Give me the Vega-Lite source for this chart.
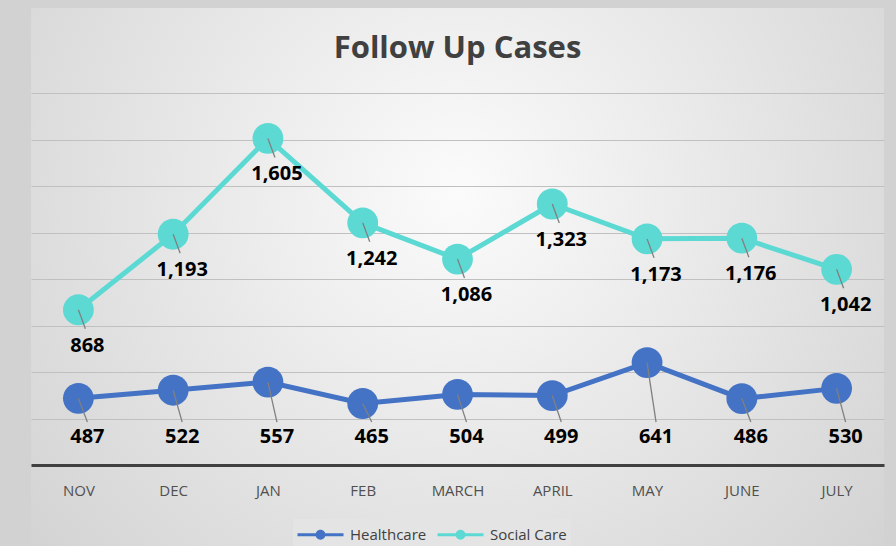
{
  "$schema": "https://vega.github.io/schema/vega-lite/v6.json",
  "width": 853,
  "height": 538,
  "autosize": {"type": "none"},
  "padding": {"left": 31, "top": 8, "right": 12, "bottom": 0},
  "background": "#d2d2d2",
  "config": {
    "font": "Open Sans",
    "view": {
      "stroke": null,
      "fill": {
        "gradient": "radial",
        "x1": 0.5, "y1": 0.4, "r1": 0,
        "x2": 0.5, "y2": 0.4, "r2": 0.75,
        "stops": [
          {"offset": 0, "color": "#fbfbfb"},
          {"offset": 1, "color": "#cdcdcd"}
        ]
      }
    }
  },
  "title": {
    "text": "Follow Up Cases",
    "orient": "top",
    "anchor": "middle",
    "frame": "group",
    "offset": -81,
    "baseline": "alphabetic",
    "fontSize": 31,
    "fontWeight": "bold",
    "font": "Open Sans",
    "color": "#404040"
  },
  "data": {
    "values": [
      {"month": "NOV", "series": "Healthcare", "value": 487},
      {"month": "DEC", "series": "Healthcare", "value": 522},
      {"month": "JAN", "series": "Healthcare", "value": 557},
      {"month": "FEB", "series": "Healthcare", "value": 465},
      {"month": "MARCH", "series": "Healthcare", "value": 504},
      {"month": "APRIL", "series": "Healthcare", "value": 499},
      {"month": "MAY", "series": "Healthcare", "value": 641},
      {"month": "JUNE", "series": "Healthcare", "value": 486},
      {"month": "JULY", "series": "Healthcare", "value": 530},
      {"month": "NOV", "series": "Social Care", "value": 868},
      {"month": "DEC", "series": "Social Care", "value": 1193},
      {"month": "JAN", "series": "Social Care", "value": 1605},
      {"month": "FEB", "series": "Social Care", "value": 1242},
      {"month": "MARCH", "series": "Social Care", "value": 1086},
      {"month": "APRIL", "series": "Social Care", "value": 1323},
      {"month": "MAY", "series": "Social Care", "value": 1173},
      {"month": "JUNE", "series": "Social Care", "value": 1176},
      {"month": "JULY", "series": "Social Care", "value": 1042}
    ]
  },
  "encoding": {
    "x": {
      "field": "month",
      "type": "nominal",
      "sort": null,
      "scale": {"type": "point", "padding": 0.5},
      "axis": {
        "title": null,
        "orient": "bottom",
        "offset": -81,
        "ticks": false,
        "labelPadding": 18,
        "labelAngle": 0,
        "labelFontSize": 15,
        "labelColor": "#505050",
        "labelFont": "Open Sans",
        "domainColor": "#404040",
        "domainWidth": 3,
        "grid": false
      }
    }
  },
  "layer": [
    {
      "mark": {"type": "line", "strokeWidth": 5},
      "encoding": {
        "y": {
          "field": "value",
          "type": "quantitative",
          "scale": {"domain": [-148, 2166], "nice": false, "zero": false},
          "axis": {
            "title": null,
            "labels": false,
            "ticks": false,
            "domain": false,
            "values": [400, 600, 800, 1000, 1200, 1400, 1600, 1800],
            "gridColor": "#c0c0c0",
            "gridWidth": 1
          }
        },
        "color": {
          "field": "series",
          "type": "nominal",
          "scale": {"domain": ["Healthcare", "Social Care"], "range": ["#4472C4", "#5DD9D4"]},
          "legend": {
            "title": null,
            "orient": "none",
            "legendX": 262,
            "legendY": 511,
            "direction": "horizontal",
            "columns": 2,
            "fillColor": "#e4e4e4",
            "padding": 4,
            "columnPadding": 10,
            "labelFontSize": 15,
            "labelColor": "#404040",
            "labelFont": "Open Sans",
            "labelOffset": 18,
            "symbolSize": 529,
            "symbolOffset": 12,
            "symbolType": "M-2,-0.14H2V0.14H-2Z M-0.43,0A0.43,0.43 0 1,1 0.43,0A0.43,0.43 0 1,1 -0.43,0Z",
            "encode": {
              "symbols": {
                "update": {
                  "fill": {"scale": "color", "field": "value"},
                  "stroke": {"value": "transparent"},
                  "strokeWidth": {"value": 0}
                }
              }
            }
          }
        }
      }
    },
    {
      "mark": {"type": "point", "filled": true, "opacity": 1, "size": 950, "shape": "circle"},
      "encoding": {
        "y": {"field": "value", "type": "quantitative"},
        "color": {"field": "series", "type": "nominal", "legend": null}
      }
    },
    {
      "transform": [{"filter": "datum.series === 'Healthcare'"}],
      "mark": {"type": "rule", "color": "#808080", "strokeWidth": 1.3, "x2Offset": 9},
      "encoding": {
        "y": {"field": "value", "type": "quantitative"},
        "y2": {"datum": 385},
        "x2": {"field": "month"}
      }
    },
    {
      "transform": [{"filter": "datum.series === 'Social Care'"}],
      "mark": {"type": "rule", "color": "#808080", "strokeWidth": 1.3, "x2Offset": 7, "y2Offset": 19},
      "encoding": {
        "y": {"field": "value", "type": "quantitative"},
        "y2": {"field": "value"},
        "x2": {"field": "month"}
      }
    },
    {
      "transform": [{"filter": "datum.series === 'Healthcare'"}],
      "mark": {"type": "text", "fontSize": 20, "fontWeight": "bold", "color": "#000000", "dx": 9, "baseline": "middle", "font": "Open Sans"},
      "encoding": {
        "y": {"datum": 320},
        "text": {"field": "value", "type": "quantitative", "format": ","}
      }
    },
    {
      "transform": [{"filter": "datum.series === 'Social Care'"}],
      "mark": {"type": "text", "fontSize": 20, "fontWeight": "bold", "color": "#000000", "dx": 9, "dy": 36, "baseline": "middle", "font": "Open Sans"},
      "encoding": {
        "y": {"field": "value", "type": "quantitative"},
        "text": {"field": "value", "type": "quantitative", "format": ","}
      }
    }
  ]
}
